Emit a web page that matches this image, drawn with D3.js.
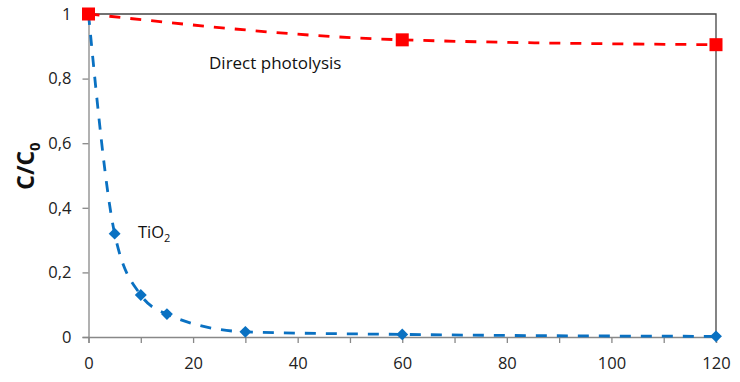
<!DOCTYPE html>
<html><head><meta charset="utf-8">
<script src="https://cdn.jsdelivr.net/npm/d3@7"></script>
<style>body{margin:0;background:#fff}svg{display:block}text{font-family:"Open Sans","Liberation Sans",sans-serif}</style>
</head><body><svg id="c" width="740" height="382"></svg>
<script>
const timeMin = [0, 5, 10, 15, 30, 60, 120];
const tio2 = [1, 0.32, 0.13, 0.071, 0.016, 0.008, 0.002];
const photoTime = [0, 60, 120];
const photolysis = [1, 0.92, 0.905];
const xTicks = [0, 20, 40, 60, 80, 100, 120];
const yTicks = [0, 0.2, 0.4, 0.6, 0.8, 1];
const yTickLabels = ["0", "0,2", "0,4", "0,6", "0,8", "1"];

const svg = d3.select("#c");
const L = 88.5, R = 716, T = 14, B = 337;
const x = d3.scaleLinear().domain([0, 120]).range([L, R]);
const y = d3.scaleLinear().domain([0, 1]).range([B, T]);
const axisGray = "#888";

// top and right border
svg.append("path").attr("d", `M${L},${T}H${R}V${B}`).attr("fill", "none").attr("stroke", "#444").attr("stroke-width", 1.3);

// x axis
const gx = svg.append("g").attr("transform", `translate(0,${B})`)
  .call(d3.axisBottom(x).tickValues(d3.range(0, 121, 10)).tickSize(6).tickFormat(d => xTicks.includes(d) ? d : ""));
gx.select(".domain").attr("stroke", axisGray).attr("stroke-width", 1.3);
gx.selectAll(".tick line").attr("stroke", axisGray).attr("stroke-width", 1.3);
gx.selectAll(".tick text").attr("fill", "#222").attr("font-size", 16.5).attr("dy", "1.4em");

// y axis
const gy = svg.append("g").attr("transform", `translate(${L},0)`)
  .call(d3.axisLeft(y).tickValues(yTicks).tickSize(6).tickFormat((d, i) => yTickLabels[i]));
gy.select(".domain").attr("stroke", axisGray).attr("stroke-width", 1.3);
gy.selectAll(".tick text").attr("fill", "#222").attr("font-size", 16.5).attr("x", -17);
gy.selectAll(".tick line").attr("stroke", axisGray).attr("stroke-width", 1.3);

// y title
const yt = svg.append("text").attr("transform", "translate(34,166) rotate(-90)")
  .attr("text-anchor", "middle").attr("font-size", 23).attr("font-weight", "bold").attr("fill", "#111");
yt.append("tspan").text("C/C");
yt.append("tspan").attr("font-size", 15).attr("dy", 6).text("0");

const line = d3.line().curve(d3.curveMonotoneX);

// TiO2 series
const blue = "#0A71C2";
svg.append("path").attr("d", line(timeMin.map((t, i) => [x(t), y(tio2[i])])))
  .attr("fill", "none").attr("stroke", blue).attr("stroke-width", 2.8).attr("stroke-dasharray", "11,10");
svg.selectAll(".dia").data(timeMin).enter().append("path")
  .attr("transform", (t, i) => `translate(${x(t)},${y(tio2[i])}) rotate(45)`)
  .attr("d", "M-4.2,-4.2h8.4v8.4h-8.4z").attr("fill", blue);

// photolysis series
const red = "#FF0000";
svg.append("path").attr("d", line(photoTime.map((t, i) => [x(t), y(photolysis[i])])))
  .attr("fill", "none").attr("stroke", red).attr("stroke-width", 2.8).attr("stroke-dasharray", "11,10");
svg.selectAll(".sq").data(photoTime).enter().append("rect")
  .attr("x", t => x(t) - 6.5).attr("y", (t, i) => y(photolysis[i]) - 6.5)
  .attr("width", 13).attr("height", 13).attr("fill", red);

// labels
svg.append("text").attr("x", 209).attr("y", 69).attr("font-size", 17).attr("fill", "#111").text("Direct photolysis");
const tl = svg.append("text").attr("x", 138).attr("y", 238).attr("font-size", 16.5).attr("fill", "#111");
tl.append("tspan").text("TiO");
tl.append("tspan").attr("font-size", 11).attr("dy", 4).text("2");
</script></body></html>
